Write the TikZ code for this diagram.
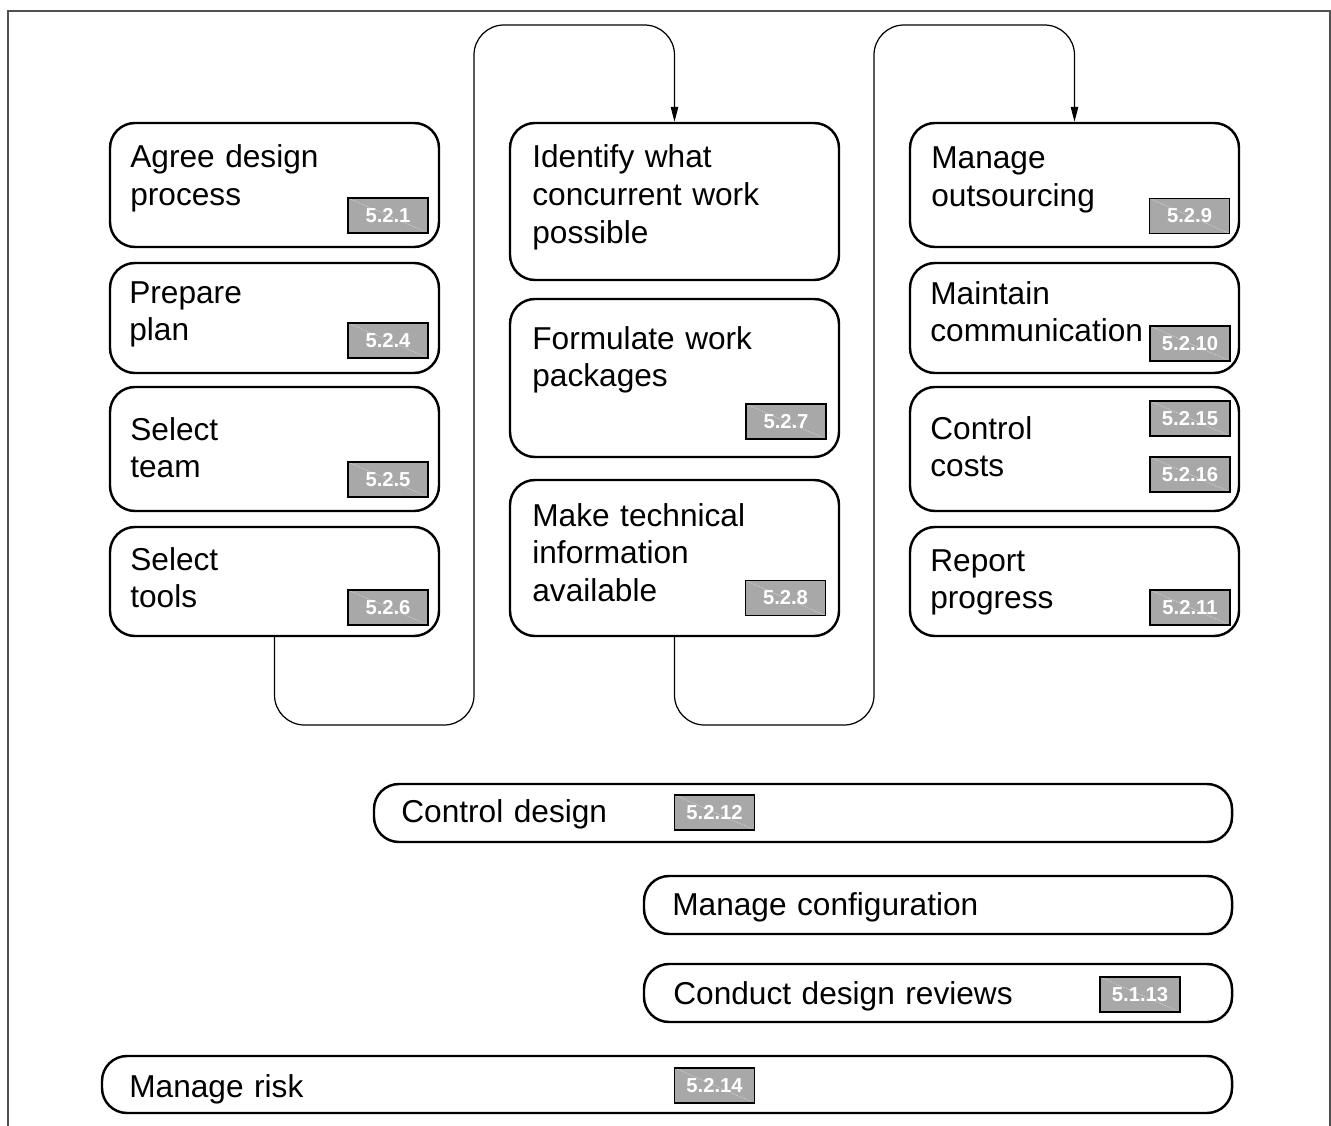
\documentclass[tikz,border=0pt]{standalone}
\usepackage{fontspec}
\setmainfont{Liberation Sans}
\usepackage{tikz}
\usetikzlibrary{arrows.meta}
\definecolor{tagfill}{HTML}{A8A8A8}
\definecolor{framegray}{HTML}{505050}
\tikzset{
  stepbox/.style={draw=black, line width=1.4pt, rounded corners=5mm, minimum width=65.8mm},
  barbox/.style={draw=black, line width=1.4pt, rounded corners=5mm, minimum height=11.6mm},
  boxtext/.style={anchor=base west, inner sep=0pt, text width=80mm, align=left, font=\fontsize{18}{21.5}\selectfont},
  tagbox/.style={draw=black, line width=0.8pt, fill=tagfill, minimum width=16mm, minimum height=7mm, inner sep=0pt,
    text=white, font=\fontsize{11.5}{13}\selectfont\bfseries,
    path picture={\draw[white, opacity=0.5, line width=0.3pt, dash pattern=on 1pt off 0.6pt] (path picture bounding box.north west) -- (path picture bounding box.south east);}},
  flow/.style={line width=0.7pt, rounded corners=6mm},
  frameline/.style={draw=framegray, line width=0.8pt}
}
\begin{document}
\begin{tikzpicture}[x=0.2mm, y=-0.2mm]
  \useasboundingbox (0,0) rectangle (1331,1126);
  \draw[frameline] (8,1126) -- (8,11) -- (1330,11) -- (1330,1126);

  % left column
  \node[stepbox, minimum height=24.8mm] at (274.5,185) (agree) {};
  \node[stepbox, minimum height=22mm] at (274.5,318) (plan) {};
  \node[stepbox, minimum height=24.8mm] at (274.5,449) (team) {};
  \node[stepbox, minimum height=21.8mm] at (274.5,581.5) (tools) {};
  \node[boxtext] at (130,168) (agreetxt) {Agree design\\process};
  \node[boxtext] at (129,303) (plantxt) {Prepare\\plan};
  \node[boxtext] at (130,440) (teamtxt) {Select\\team};
  \node[boxtext] at (130,570) (toolstxt) {Select\\tools};
  \node[tagbox] at (388,215.5) (t521) {5.2.1};
  \node[tagbox] at (388,340.5) (t524) {5.2.4};
  \node[tagbox] at (388,479.5) (t525) {5.2.5};
  \node[tagbox] at (388,607.5) (t526) {5.2.6};

  % middle column
  \node[stepbox, minimum height=31.4mm] at (674.5,201.5) (identify) {};
  \node[stepbox, minimum height=31.6mm] at (674.5,378) (packages) {};
  \node[stepbox, minimum height=31.2mm] at (674.5,558) (techinfo) {};
  \node[boxtext] at (532,168) (identifytxt) {Identify what\\concurrent work\\possible};
  \node[boxtext] at (532,349) (packagestxt) {Formulate work\\packages};
  \node[boxtext] at (532,526) (techinfotxt) {Make technical\\information\\available};
  \node[tagbox] at (786,421.5) (t527) {5.2.7};
  \node[tagbox] at (785.5,598) (t528) {5.2.8};

  % right column
  \node[stepbox, minimum height=24.8mm] at (1074.5,185) (outsourcing) {};
  \node[stepbox, minimum height=22mm] at (1074.5,318) (comms) {};
  \node[stepbox, minimum height=24.8mm] at (1074.5,449) (costs) {};
  \node[stepbox, minimum height=21.8mm] at (1074.5,581.5) (progress) {};
  \node[boxtext] at (931,169) (outsourcingtxt) {Manage\\outsourcing};
  \node[boxtext] at (930,304) (commstxt) {Maintain\\communication};
  \node[boxtext] at (930,439) (coststxt) {Control\\costs};
  \node[boxtext] at (930,571) (progresstxt) {Report\\progress};
  \node[tagbox] at (1189.5,216) (t529) {5.2.9};
  \node[tagbox] at (1190,343.5) (t5210) {5.2.10};
  \node[tagbox] at (1190,418.5) (t5215) {5.2.15};
  \node[tagbox] at (1190,474.5) (t5216) {5.2.16};
  \node[tagbox] at (1190,607.5) (t5211) {5.2.11};

  % links between columns
  \draw[flow, -{Triangle[length=3mm, width=1.5mm]}]
    (tools.south) -- (274.5,725) -- (474,725) -- (474,25) -- (674.5,25) -- (identify.north);
  \draw[flow, -{Triangle[length=3mm, width=1.5mm]}]
    (techinfo.south) -- (674.5,725) -- (874,725) -- (874,25) -- (1074.5,25) -- (outsourcing.north);

  % ongoing activities
  \node[barbox, minimum width=171.6mm] at (803,813) (ctrldesign) {};
  \node[barbox, minimum width=117.6mm] at (938,905) (config) {};
  \node[barbox, minimum width=117.6mm] at (938,993) (reviews) {};
  \node[barbox, minimum width=226mm, minimum height=11.4mm] at (667,1084.5) (risk) {};
  \node[boxtext] at (401,822) (ctrldesigntxt) {Control design};
  \node[boxtext] at (672,915) (configtxt) {Manage configuration};
  \node[boxtext] at (673,1004) (reviewstxt) {Conduct design reviews};
  \node[boxtext] at (129,1097) (risktxt) {Manage risk};
  \node[tagbox] at (714.5,812.5) (t5212) {5.2.12};
  \node[tagbox] at (1140,994.5) (t5113) {5.1.13};
  \node[tagbox] at (714.5,1085.5) (t5214) {5.2.14};
\end{tikzpicture}
\end{document}
